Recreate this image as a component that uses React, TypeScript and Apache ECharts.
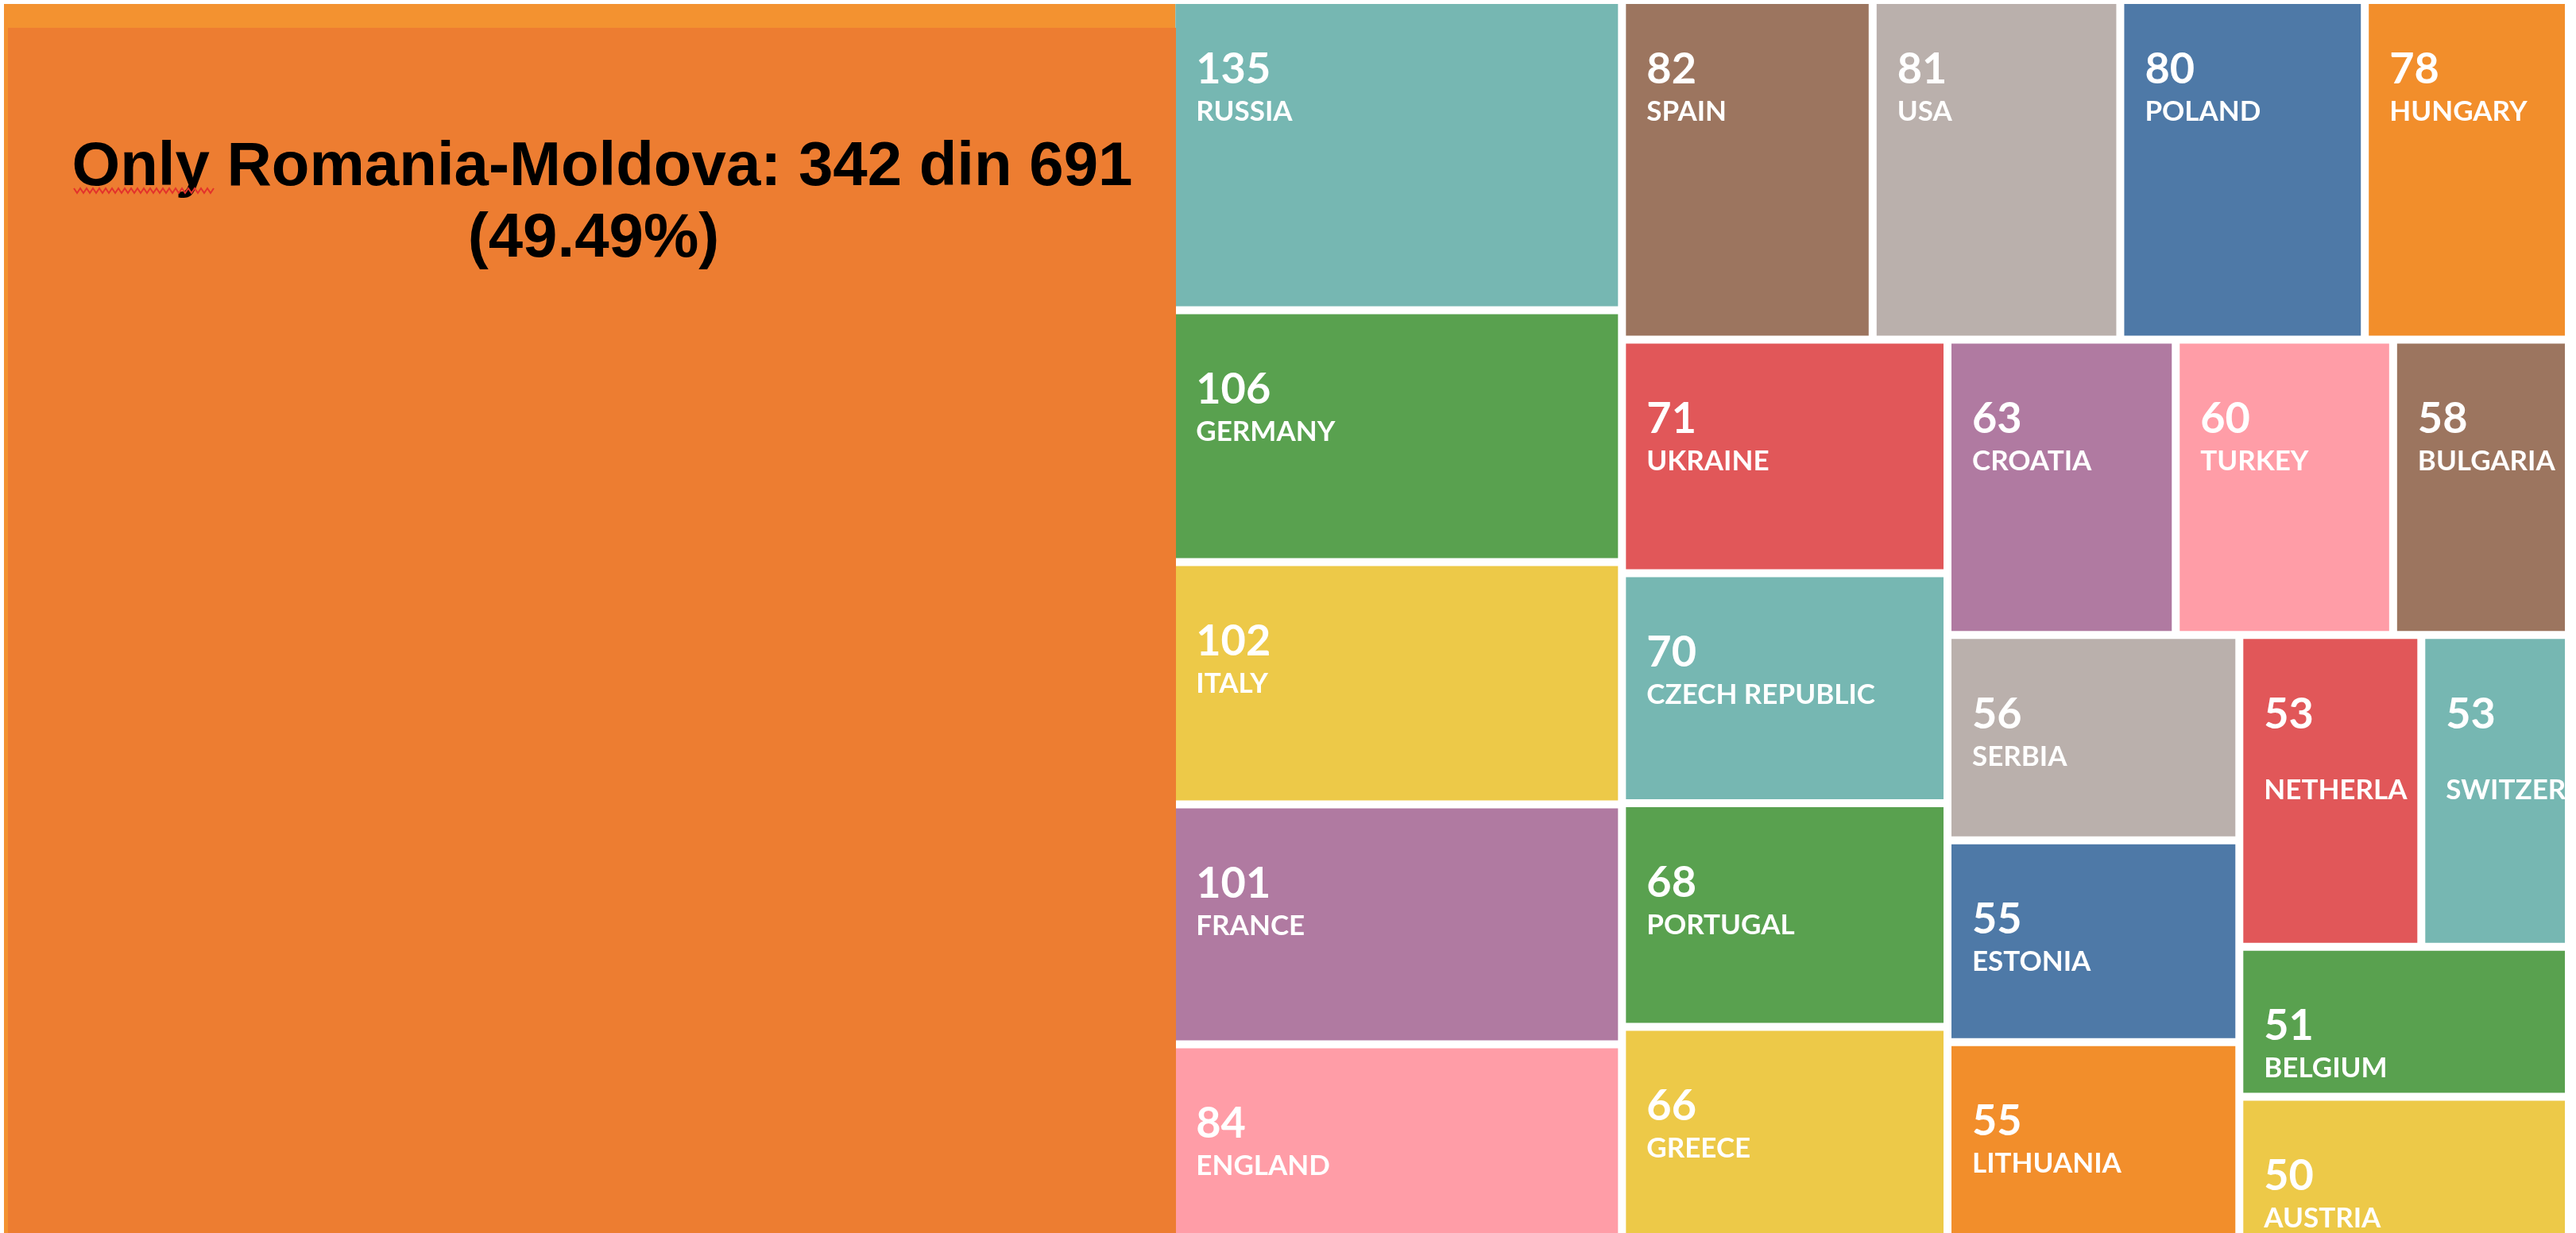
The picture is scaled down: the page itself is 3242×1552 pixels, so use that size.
import React, { useEffect, useRef } from 'react';
import * as echarts from 'echarts';

// ---- data ----
const countries = [
  'RUSSIA', 'GERMANY', 'ITALY', 'FRANCE', 'ENGLAND',
  'SPAIN', 'USA', 'POLAND', 'HUNGARY',
  'UKRAINE', 'CZECH REPUBLIC', 'PORTUGAL', 'GREECE',
  'CROATIA', 'TURKEY', 'BULGARIA',
  'SERBIA', 'ESTONIA', 'LITHUANIA',
  'NETHERLANDS', 'SWITZERLAND',
  'BELGIUM', 'AUSTRIA',
];
const counts = [
  135, 106, 102, 101, 84,
  82, 81, 80, 78,
  71, 70, 68, 66,
  63, 60, 58,
  56, 55, 55,
  53, 53,
  51, 50,
];
const cellColors = [
  '#76B7B2', '#59A14F', '#EDC948', '#B07AA1', '#FF9DA7',
  '#9C755F', '#BAB0AC', '#4E79A7', '#F28E2B',
  '#E15759', '#76B7B2', '#59A14F', '#EDC948',
  '#B07AA1', '#FF9DA7', '#9C755F',
  '#BAB0AC', '#4E79A7', '#F28E2B',
  '#E15759', '#76B7B2',
  '#59A14F', '#EDC948',
];
// names that Tableau pushed one line down (wrapped)
const wrappedNames = ['NETHERLANDS', 'SWITZERLAND'];

const highlightRegion = 'Romania-Moldova';
const highlightCount = 342;
const totalCount = 691;

export default function App() {
  const ref = useRef<HTMLDivElement>(null);

  useEffect(() => {
    const el = ref.current;
    if (!el) return;
    const chart = echarts.init(el, null, { renderer: 'svg' });

    const pct = ((highlightCount / totalCount) * 100).toFixed(2);
    const line1 = `Only ${highlightRegion}: ${highlightCount} din ${totalCount}`;
    const line2 = `(${pct}%)`;

    // spell-check squiggle under "Only"
    const squiggle: number[][] = [];
    for (let i = 0; i <= 44; i++) {
      squiggle.push([93 + i * 4, i % 2 === 0 ? 232 : 238]);
    }

    const data = countries.map((name, i) => {
      const item: any = {
        name,
        value: counts[i],
        itemStyle: { color: cellColors[i] },
      };
      if (wrappedNames.includes(name)) {
        item.label = { formatter: '{v|{c}}\n{gap| }\n{n|{b}}' };
      }
      return item;
    });

    chart.setOption({
      animation: false,
      series: [
        {
          type: 'treemap',
          name: highlightRegion,
          left: 5,
          top: -13,
          width: 1474.3,
          height: 1569,
          roam: false,
          nodeClick: false,
          breadcrumb: { show: false },
          itemStyle: { gapWidth: 10, borderWidth: 0, borderColor: '#fff' },
          levels: [{ itemStyle: { gapWidth: 10, borderWidth: 0, borderColor: '#fff' } }],
          label: { show: false },
          silent: true,
          data: [
            { name: highlightRegion.toUpperCase(), value: highlightCount, itemStyle: { color: '#F39230' } },
          ],
        },
        {
          type: 'treemap',
          name: 'Countries',
          left: 1479.3,
          top: -13,
          width: 1792,
          height: 1568.5,
          sort: false,
          roam: false,
          nodeClick: false,
          silent: true,
          breadcrumb: { show: false },
          itemStyle: { gapWidth: 10, borderWidth: 0, borderColor: '#fff' },
          levels: [{ itemStyle: { gapWidth: 10, borderWidth: 0, borderColor: '#fff' } }],
          label: {
            show: true,
            position: 'insideTopLeft',
            distance: 0,
            padding: [64, 0, 0, 26],
            overflow: 'truncate',
            ellipsis: '',
            color: '#fff',
            formatter: '{v|{c}}\n{n|{b}}',
            rich: {
              v: {
                fontFamily: 'Lato',
                fontWeight: 'bold',
                fontSize: 54,
                lineHeight: 56,
                color: '#fff',
              },
              n: {
                fontFamily: 'Lato',
                fontWeight: 'bold',
                fontSize: 35,
                lineHeight: 51,
                color: '#fff',
              },
              gap: {
                fontSize: 10,
                lineHeight: 42,
              },
            },
          },
          data,
        },
      ],
      graphic: {
        elements: [
          {
            type: 'rect',
            z: 100,
            shape: { x: 10, y: 30, width: 1470, height: 1540 },
            style: { fill: '#ED7D31' },
          },
          {
            type: 'text',
            z: 101,
            x: 758,
            y: 201,
            style: {
              text: line1,
              font: 'bold 78px "Liberation Sans", Arial, sans-serif',
              fill: '#000',
              align: 'center',
              verticalAlign: 'middle',
            },
          },
          {
            type: 'text',
            z: 101,
            x: 747,
            y: 291,
            style: {
              text: line2,
              font: 'bold 78px "Liberation Sans", Arial, sans-serif',
              fill: '#000',
              align: 'center',
              verticalAlign: 'middle',
            },
          },
          {
            type: 'polyline',
            z: 101,
            shape: { points: squiggle },
            style: { stroke: '#E3322B', lineWidth: 2, fill: null },
          },
        ],
      },
    });

    return () => {
      chart.dispose();
    };
  }, []);

  return (
    <div
      ref={ref}
      style={{ position: 'fixed', left: 0, top: 5, width: 3228, height: 1547 }}
    />
  );
}
